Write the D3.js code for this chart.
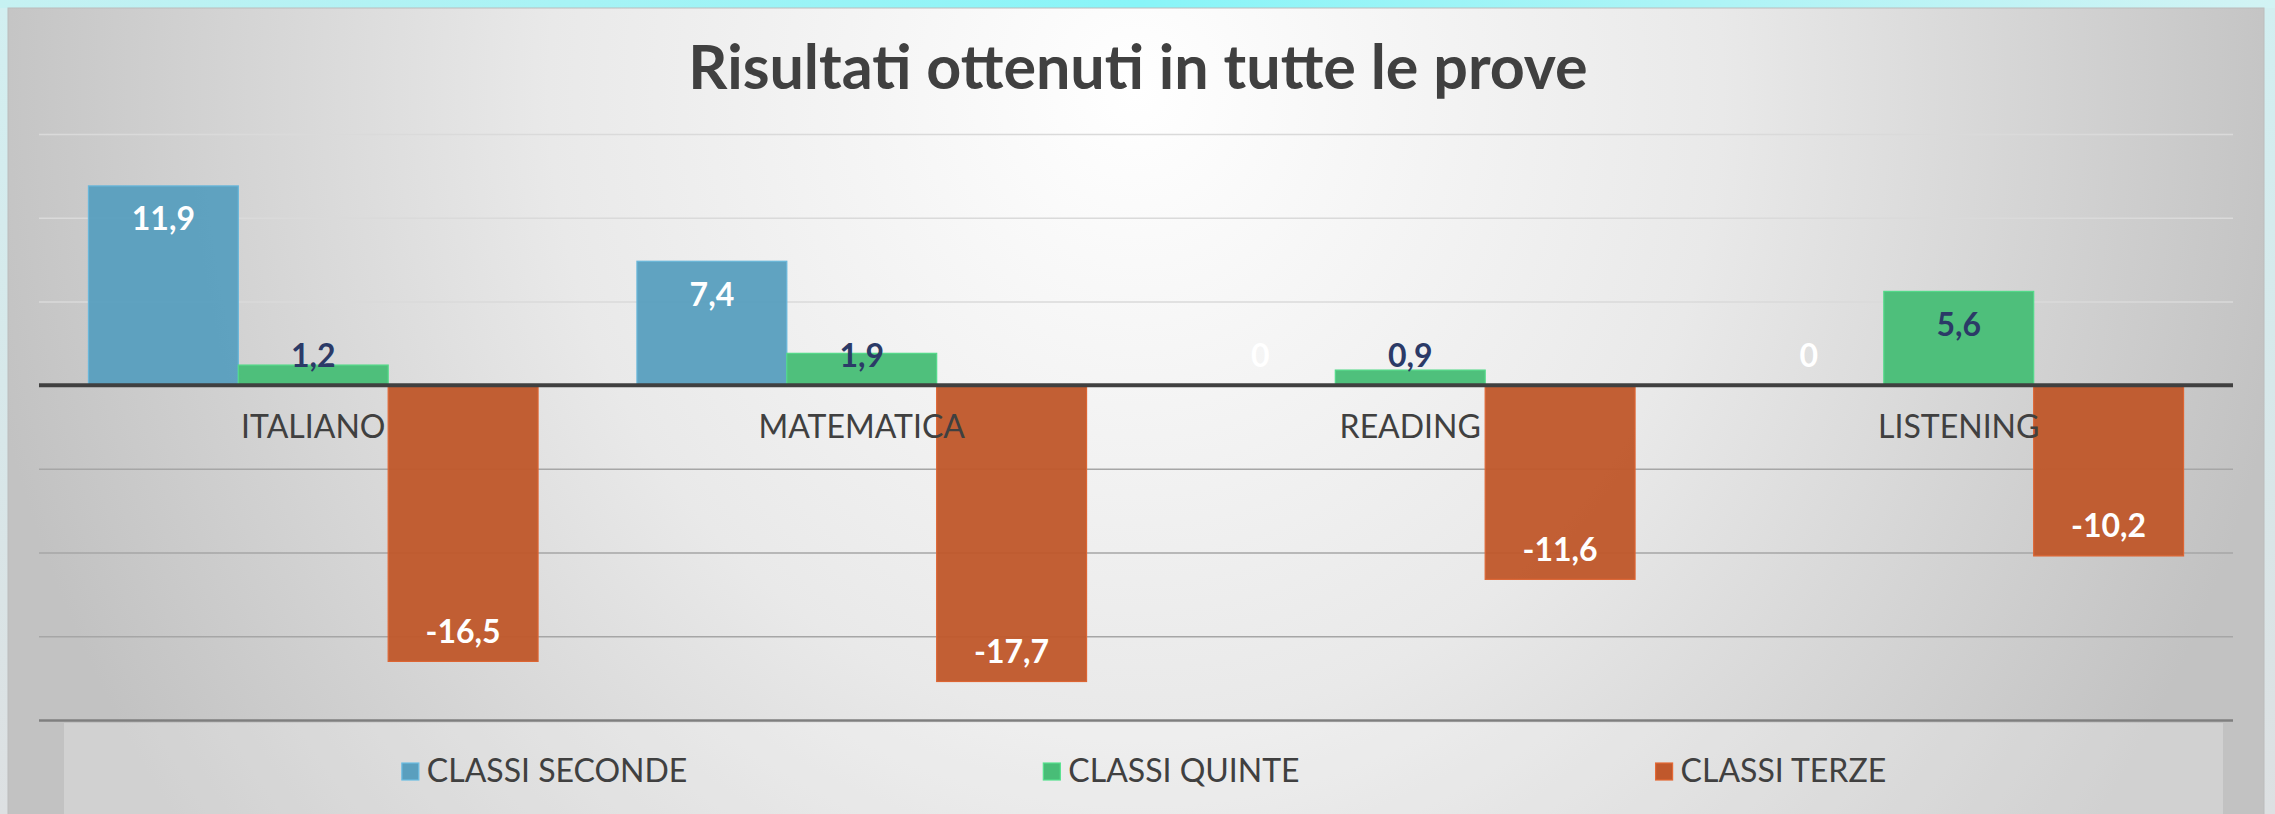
<!DOCTYPE html>
<html>
<head>
<meta charset="utf-8">
<script src="https://cdn.jsdelivr.net/npm/d3@7"></script>
<style>
  html, body { margin: 0; padding: 0; overflow: hidden; }
  body { width: 2275px; height: 814px; }
</style>
</head>
<body>
<div id="chartDiv"></div>
<script>
// data
var categories = ["ITALIANO", "MATEMATICA", "READING", "LISTENING"];
var seriesNames = ["CLASSI SECONDE", "CLASSI QUINTE", "CLASSI TERZE"];
var seconde = [11.9, 7.4, 0, 0];
var quinte = [1.2, 1.9, 0.9, 5.6];
var terze = [-16.5, -17.7, -11.6, -10.2];
var yTicks = [-20, -15, -10, -5, 0, 5, 10, 15];
var title = "Risultati ottenuti in tutte le prove";

var colors = ["#5a9fbe", "#48bd77", "#c0582c"];
var labelColors = ["#ffffff", "#2b3a67", "#ffffff"];

var W = 2275, H = 814;
var margin = {top: 134, right: 42, bottom: 94, left: 39},
    width = W - margin.left - margin.right,
    height = H - margin.top - margin.bottom;

var svg = d3.select("#chartDiv")
  .append("svg")
    .attr("width", W)
    .attr("height", H)
    .style("font-family", "Lato, 'Open Sans', sans-serif");

var defs = svg.append("defs");

// outer cyan frame
var outer = defs.append("linearGradient").attr("id", "outerGrad")
  .attr("x1", 0).attr("x2", 1).attr("y1", 0).attr("y2", 0);
outer.append("stop").attr("offset", 0).attr("stop-color", "#c6f1f2");
outer.append("stop").attr("offset", 0.5).attr("stop-color", "#88f5f8");
outer.append("stop").attr("offset", 1).attr("stop-color", "#d2f3f4");
svg.append("rect").attr("width", W).attr("height", H).attr("fill", "url(#outerGrad)");

var side = defs.append("linearGradient").attr("id", "sideGrad")
  .attr("x1", 0).attr("x2", 0).attr("y1", 0).attr("y2", 1);
side.append("stop").attr("offset", 0).attr("stop-color", "#d2eff1");
side.append("stop").attr("offset", 1).attr("stop-color", "#dde0e2");
svg.append("rect").attr("x", 0).attr("y", 8).attr("width", 8).attr("height", H - 8).attr("fill", "url(#sideGrad)");
svg.append("rect").attr("x", 2264).attr("y", 8).attr("width", 11).attr("height", H - 8).attr("fill", "url(#sideGrad)");

// panel background
var panelGrad = defs.append("radialGradient").attr("id", "panelGrad")
  .attr("cx", 0.5).attr("cy", 0.1).attr("r", 0.52)
  .attr("gradientTransform", "translate(0.5,0.1) scale(1,3) translate(-0.5,-0.1)");
panelGrad.append("stop").attr("offset", 0).attr("stop-color", "#ffffff");
panelGrad.append("stop").attr("offset", 0.5).attr("stop-color", "#e9e9e9");
panelGrad.append("stop").attr("offset", 1).attr("stop-color", "#c2c2c2");

svg.append("rect")
  .attr("x", 8).attr("y", 8)
  .attr("width", 2256).attr("height", H)
  .attr("fill", "url(#panelGrad)")
  .attr("stroke", "#bcbcbc")
  .attr("stroke-width", 1);

// title
svg.append("text")
  .attr("x", 1138)
  .attr("y", 89)
  .attr("text-anchor", "middle")
  .attr("font-size", 61)
  .attr("font-weight", 700)
  .attr("fill", "#404040")
  .text(title);

// legend box
svg.append("rect")
  .attr("x", 64).attr("y", 723)
  .attr("width", 2223 - 64).attr("height", H - 723)
  .attr("fill", "#ffffff")
  .attr("fill-opacity", 0.25);

var gWrapper = svg.append("g")
  .attr("transform", "translate(" + margin.left + "," + margin.top + ")");

var yScale = d3.scaleLinear()
  .domain([-20, 15])
  .range([height, 0]);

var x0 = d3.scaleBand()
  .domain(categories)
  .range([0, width])
  .padding(0);

var x1 = d3.scaleBand()
  .domain(seriesNames)
  .range([0, x0.bandwidth()])
  .paddingInner(0)
  .paddingOuter(0.33);

// gridlines
var grid = gWrapper.append("g")
  .call(d3.axisLeft(yScale).tickValues(yTicks).tickSize(-width).tickFormat(""));
grid.select(".domain").remove();
grid.selectAll(".tick line")
  .attr("stroke", function(d) { return d > 0 ? "#dadada" : (d === -20 ? "#7f7f7f" : "#a6a6a6"); })
  .attr("stroke-width", function(d) { return d === -20 ? 2.5 : 1.5; });
grid.selectAll(".tick").filter(function(d) { return d === 0; }).remove();

// bars
var seriesData = [seconde, quinte, terze];
var rows = [];
seriesData.forEach(function(vals, si) {
  vals.forEach(function(v, ci) {
    rows.push({cat: categories[ci], s: seriesNames[si], si: si, v: v});
  });
});

gWrapper.append("g")
  .selectAll("rect")
  .data(rows.filter(function(d) { return d.v !== 0; }))
  .enter().append("rect")
    .attr("x", function(d) { return x0(d.cat) + x1(d.s); })
    .attr("width", x1.bandwidth())
    .attr("y", function(d) { return yScale(Math.max(0, d.v)); })
    .attr("height", function(d) { return Math.abs(yScale(d.v) - yScale(0)); })
    .attr("fill", function(d) { return colors[d.si]; })
    .attr("fill-opacity", 0.96)
    .attr("stroke", function(d) { return d3.color(colors[d.si]).brighter(0.4); })
    .attr("stroke-width", 1.2);

// category labels (drawn on top of bars, as in the original)
gWrapper.append("g")
  .selectAll("text")
  .data(categories)
  .enter().append("text")
    .attr("x", function(d) { return x0(d) + x0.bandwidth() / 2; })
    .attr("y", yScale(0) + 53)
    .attr("text-anchor", "middle")
    .attr("font-size", 32)
    .attr("font-weight", 400)
    .attr("fill", "#404040")
    .text(function(d) { return d; });

// zero line
gWrapper.append("line")
  .attr("x1", 0).attr("x2", width)
  .attr("y1", yScale(0)).attr("y2", yScale(0))
  .attr("stroke", "#404040")
  .attr("stroke-width", 4);

// value labels
var fmt = function(v) { return String(v).replace(".", ","); };
gWrapper.append("g")
  .selectAll("text")
  .data(rows)
  .enter().append("text")
    .attr("x", function(d) { return x0(d.cat) + x1(d.s) + x1.bandwidth() / 2; })
    .attr("y", function(d) {
      var c = d.v >= 0 ? Math.min(yScale(d.v) + 33, yScale(0) - 30) : yScale(d.v) - 30;
      return c + 11.5;
    })
    .attr("text-anchor", "middle")
    .attr("font-size", 32)
    .attr("font-weight", 700)
    .attr("fill", function(d) { return labelColors[d.si]; })
    .text(function(d) { return fmt(d.v); });

// legend
var legend = svg.append("g");
var items = legend.selectAll("g")
  .data(seriesNames)
  .enter().append("g");
items.append("rect")
  .attr("width", 17).attr("height", 17)
  .attr("y", 763)
  .attr("fill", function(d, i) { return colors[i]; })
  .attr("stroke", function(d, i) { return d3.color(colors[i]).brighter(0.5); })
  .attr("stroke-width", 1.2);
items.append("text")
  .attr("x", 25)
  .attr("y", 782)
  .attr("font-size", 32)
  .attr("font-weight", 400)
  .attr("fill", "#404040")
  .text(function(d) { return d; });

var gap = 356;
var widths = [];
items.each(function() { widths.push(this.getBBox().width); });
var total = d3.sum(widths) + gap * (widths.length - 1);
var cx = 1144 - total / 2;
items.attr("transform", function(d, i) {
  var x = cx;
  cx += widths[i] + gap;
  return "translate(" + x + ",0)";
});
</script>
</body>
</html>
